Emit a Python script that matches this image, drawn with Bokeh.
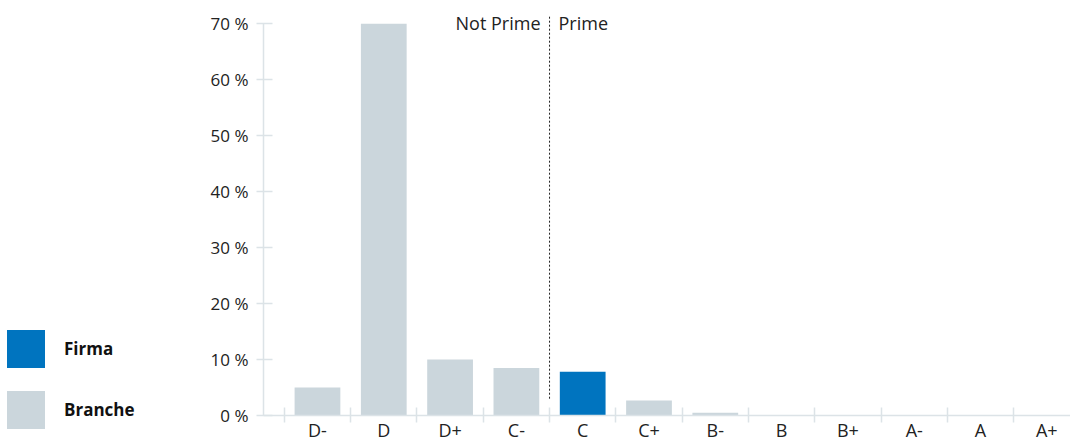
from bokeh.plotting import figure
from bokeh.layouts import row
from bokeh.models import (ColumnDataSource, FixedTicker, Label, Range1d, Div)
from bokeh.embed import file_html
from bokeh.resources import INLINE

categories = ["D-", "D", "D+", "C-", "C", "C+", "B-", "B", "B+", "A-", "A", "A+"]
branche = [5.0, 70.0, 10.0, 8.5, 0.0, 2.7, 0.5, 0.0, 0.0, 0.0, 0.0, 0.0]
firma = [0.0, 0.0, 0.0, 0.0, 7.8, 0.0, 0.0, 0.0, 0.0, 0.0, 0.0, 0.0]
y_ticks = [0, 10, 20, 30, 40, 50, 60, 70]
y_labels = [f"{t} %" for t in y_ticks]
prime_boundary = 3.5  # between C- and C
region_labels = ["Not Prime", "Prime"]
series_names = ["Firma", "Branche"]

FONT = "Open Sans"
GREY = "#CBD6DC"
BLUE = "#0074BF"
AXIS = "#DCE3E7"
LEG_W = 150

xs = list(range(len(categories)))
src = ColumnDataSource(dict(x=xs, branche=branche, firma=firma))

p = figure(width=1070 - LEG_W, height=446, output_backend="svg", toolbar_location=None,
           x_range=Range1d(-0.814, 11.357), y_range=Range1d(0, 72),
           min_border_left=263 - LEG_W, min_border_right=0, min_border_top=12, min_border_bottom=31)
p.outline_line_color = None
p.grid.grid_line_color = None

rb = p.vbar(x="x", top="branche", width=0.69, source=src, fill_color=GREY, line_color=None)
rf = p.vbar(x="x", top="firma", width=0.69, source=src, fill_color=BLUE, line_color=None)

p.segment(x0=[prime_boundary], y0=[3], x1=[prime_boundary], y1=[71.5],
          line_color="#222222", line_dash="2 2", line_width=1)
p.add_layout(Label(x=prime_boundary, y=70.2, text=region_labels[0], x_offset=-9,
                   text_align="right", text_baseline="middle", text_font=FONT,
                   text_font_size="18px", text_color="#222222"))
p.add_layout(Label(x=prime_boundary, y=70.2, text=region_labels[1], x_offset=9,
                   text_align="left", text_baseline="middle", text_font=FONT,
                   text_font_size="18px", text_color="#222222"))

xa = p.xaxis[0]
xa.ticker = FixedTicker(ticks=xs, minor_ticks=[i - 0.5 for i in xs])
xa.major_label_overrides = {i: c for i, c in zip(xs, categories)}
xa.major_tick_line_color = None
xa.major_tick_in = 0
xa.major_tick_out = 0
xa.minor_tick_line_color = AXIS
xa.minor_tick_in = 8
xa.minor_tick_out = 7
xa.minor_tick_line_width = 1.5
xa.axis_line_color = AXIS
xa.axis_line_width = 1.5
xa.major_label_text_font = FONT
xa.major_label_text_font_size = "18px"
xa.major_label_text_color = "#222222"
xa.major_label_standoff = -5

ya = p.yaxis[0]
ya.ticker = FixedTicker(ticks=y_ticks, minor_ticks=[])
ya.major_label_overrides = {t: l for t, l in zip(y_ticks, y_labels)}
ya.bounds = (0, 70)
ya.axis_line_color = AXIS
ya.axis_line_width = 1.5
ya.major_tick_line_color = AXIS
ya.major_tick_line_width = 1.5
ya.major_tick_in = 9
ya.major_tick_out = 7
ya.minor_tick_line_color = None
ya.major_label_text_font = FONT
ya.major_label_text_font_size = "17px"
ya.major_label_text_color = "#222222"
ya.major_label_standoff = 8

# legend (HTML, left of the chart)
swatches = [BLUE, GREY]
tops = [330, 391]
parts = []
for name, col, top in zip(series_names, swatches, tops):
    parts.append(
        f'<div style="position:absolute;left:7px;top:{top}px;width:38px;height:38px;'
        f'background:{col};"></div>'
        f'<div style="position:absolute;left:64px;top:{top}px;height:38px;line-height:38px;'
        f'font-family:\'{FONT}\';font-size:17px;font-weight:bold;color:#111111;'
        f'white-space:nowrap;">{name}</div>')
legend_div = Div(text="".join(parts), width=LEG_W, height=446, margin=0,
                 styles={"position": "relative"})

layout = row(legend_div, p, spacing=0)
open("out.html", "w").write(file_html(layout, INLINE))
